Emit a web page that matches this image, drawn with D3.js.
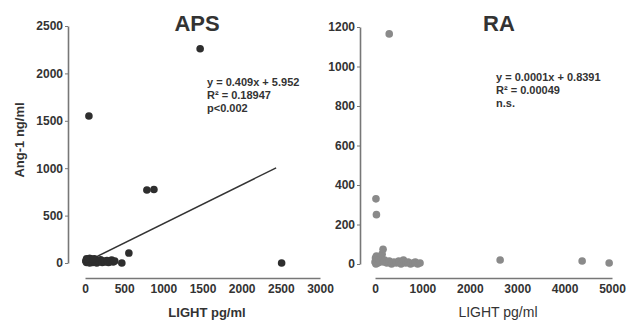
<!DOCTYPE html>
<html>
<head>
<meta charset="utf-8">
<script src="https://cdn.jsdelivr.net/npm/d3@7"></script>
<style>
  body { margin: 0; background: #fff; }
  svg text { font-family: "Liberation Sans", Arial, sans-serif; fill: #333; }
</style>
</head>
<body>
<svg id="chart" width="641" height="322"></svg>
<script>
// APS panel data: [LIGHT pg/ml, Ang-1 ng/ml]
const apsPoints = [
  [10, 20], [20, 5], [30, 35], [40, 10], [50, 25], [60, 0], [70, 40], [80, 15],
  [90, 30], [100, 5], [110, 20], [120, 45], [130, 10], [140, 30], [150, 0],
  [160, 25], [180, 15], [200, 35], [220, 5], [240, 20], [260, 10], [280, 25],
  [300, 5], [320, 15], [340, 30], [360, 10], [380, 20], [60, 50], [20, 45], [100, 40],
  [50, 1550], [1470, 2260], [790, 770], [880, 775], [560, 105], [470, 0], [2510, 0]
];
const apsFit = { slope: 0.409, intercept: 5.952, from: 100, to: 2440 };
const apsText = ['y = 0.409x + 5.952', 'R\u00b2 = 0.18947', 'p<0.002'];
const apsXTicks = [0, 500, 1000, 1500, 2000, 2500, 3000];
const apsYTicks = [0, 500, 1000, 1500, 2000, 2500];

// RA panel data
const raPoints = [
  [0, 10], [10, 30], [20, 0], [30, 40], [50, 15], [60, 5], [80, 25], [100, 10],
  [120, 35], [150, 50], [170, 75], [180, 10], [200, 20], [250, 5], [300, 15],
  [350, 0], [400, 10], [450, 5], [500, 15], [550, 0], [600, 20], [650, 5],
  [700, 10], [750, 0], [800, 5], [850, 10], [900, 0], [950, 5],
  [300, 1165], [20, 330], [30, 250], [2640, 20], [4370, 15], [4940, 5]
];
const raText = ['y = 0.0001x + 0.8391', 'R\u00b2 = 0.00049', 'n.s.'];
const raXTicks = [0, 1000, 2000, 3000, 4000, 5000];
const raYTicks = [0, 200, 400, 600, 800, 1000, 1200];

const svg = d3.select('#chart');
const fmt = d3.format('d');

function panel(opt) {
  const x = d3.scaleLinear().domain(opt.xDomain).range(opt.xRange);
  const y = d3.scaleLinear().domain(opt.yDomain).range(opt.yRange);

  // y axis
  const ya = svg.append('g')
    .attr('transform', `translate(${opt.yAxisX},0)`)
    .call(d3.axisLeft(y).tickValues(opt.yTicks).tickFormat(fmt)
      .tickSize(3).tickSizeOuter(0).tickPadding(2));
  // x axis (offset below the plot)
  const xa = svg.append('g')
    .attr('transform', `translate(0,${opt.xAxisY})`)
    .call(d3.axisBottom(x).tickValues(opt.xTicks).tickFormat(fmt)
      .tickSize(0).tickSizeOuter(0).tickPadding(6));

  [ya, xa].forEach(a => {
    a.select('.domain').attr('stroke', '#777').attr('stroke-width', 1.6);
    a.selectAll('.tick line').attr('stroke', '#777');
    a.selectAll('.tick text')
      .attr('font-size', 12).attr('font-weight', 'bold').attr('fill', '#333')
      .attr('font-family', '"Liberation Sans", Arial, sans-serif');
  });

  // fit line
  if (opt.fit) {
    const f = opt.fit;
    svg.append('line')
      .attr('x1', x(f.from)).attr('y1', y(f.slope * f.from + f.intercept))
      .attr('x2', x(f.to)).attr('y2', y(f.slope * f.to + f.intercept))
      .attr('stroke', '#333').attr('stroke-width', 1.5);
  }

  // points
  svg.append('g').selectAll('circle')
    .data(opt.points)
    .enter().append('circle')
    .attr('cx', d => x(d[0]))
    .attr('cy', d => y(d[1]))
    .attr('r', 3.8)
    .attr('fill', opt.color);

  // title
  svg.append('text')
    .attr('x', opt.titleX).attr('y', 31)
    .attr('text-anchor', 'middle')
    .attr('font-size', 22).attr('font-weight', 'bold')
    .text(opt.title);

  // equation block
  svg.append('g').selectAll('text')
    .data(opt.eq)
    .enter().append('text')
    .attr('x', opt.eqX)
    .attr('y', (d, i) => opt.eqY + i * 13)
    .attr('font-size', 11).attr('font-weight', 'bold')
    .text(d => d);

  // x label
  svg.append('text')
    .attr('x', opt.xLabelX).attr('y', 317)
    .attr('text-anchor', 'middle')
    .attr('font-size', opt.xLabelSize).attr('font-weight', opt.xLabelWeight)
    .text('LIGHT pg/ml');
}

panel({
  xDomain: [0, 3000], xRange: [85, 320],
  yDomain: [0, 2500], yRange: [263, 26],
  xTicks: apsXTicks, yTicks: apsYTicks,
  yAxisX: 68, xAxisY: 278,
  points: apsPoints, color: '#2e2e2e', fit: apsFit,
  title: 'APS', titleX: 197,
  eq: apsText, eqX: 207, eqY: 86,
  xLabelX: 207, xLabelSize: 13, xLabelWeight: 'bold'
});

panel({
  xDomain: [0, 5000], xRange: [375, 612],
  yDomain: [0, 1200], yRange: [264, 27],
  xTicks: raXTicks, yTicks: raYTicks,
  yAxisX: 360, xAxisY: 278,
  points: raPoints, color: '#8a8a8a', fit: null,
  title: 'RA', titleX: 499,
  eq: raText, eqX: 496, eqY: 81,
  xLabelX: 498, xLabelSize: 14, xLabelWeight: 'normal'
});

// shared y label
svg.append('text')
  .attr('transform', 'translate(24,140) rotate(-90)')
  .attr('text-anchor', 'middle')
  .attr('font-size', 13).attr('font-weight', 'bold')
  .text('Ang-1 ng/ml');
</script>
</body>
</html>
